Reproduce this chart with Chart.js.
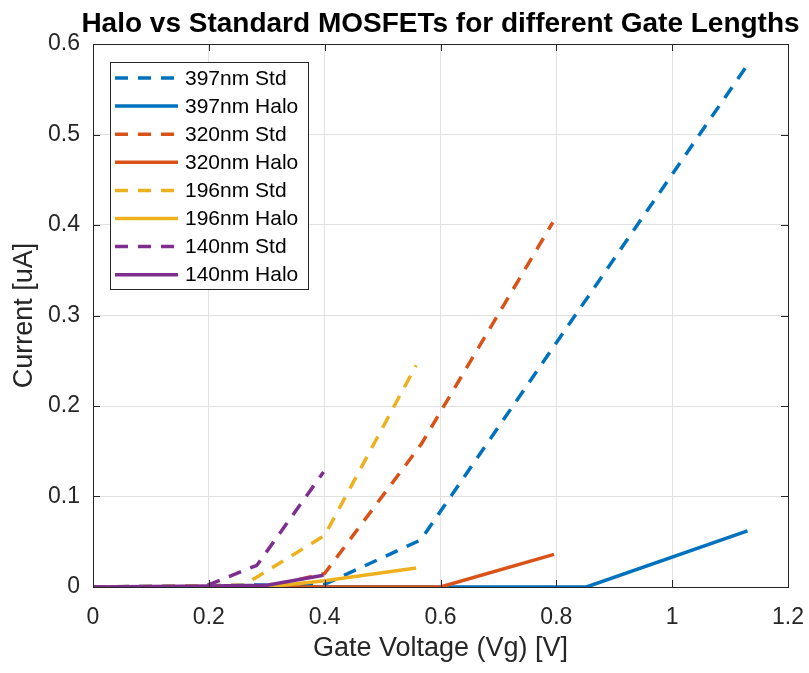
<!DOCTYPE html>
<html>
<head>
<meta charset="utf-8">
<script src="https://cdn.jsdelivr.net/npm/chart.js@4"></script>
<style>
  html, body { margin: 0; padding: 0; background: #fff; }
  canvas { display: block; }
</style>
</head>
<body>
<canvas id="chart" width="809" height="673"></canvas>
<script>
// gate voltage (V) and current (uA)
const std397V = [0, 0.4, 0.566, 1.13];
const std397I = [0, 0.003, 0.052, 0.577];
const halo397V = [0, 0.852, 1.13];
const halo397I = [0, 0, 0.062];

const std320V = [0, 0.3, 0.4, 0.567, 0.794];
const std320I = [0, 0, 0.015, 0.158, 0.403];
const halo320V = [0, 0.6, 0.796];
const halo320I = [0, 0, 0.036];

const std196V = [0, 0.26, 0.4, 0.558];
const std196I = [0, 0.002, 0.057, 0.245];
const halo196V = [0, 0.3, 0.4, 0.558];
const halo196I = [0, 0, 0.007, 0.021];

const std140V = [0, 0.19, 0.283, 0.398];
const std140I = [0, 0, 0.024, 0.127];
const halo140V = [0, 0.2, 0.3, 0.398];
const halo140I = [0, 0.001, 0.002, 0.013];

const xTicks = [0, 0.2, 0.4, 0.6, 0.8, 1, 1.2];
const yTicks = [0, 0.1, 0.2, 0.3, 0.4, 0.5, 0.6];

const BLUE = "#0072BD", ORANGE = "#D95319", YELLOW = "#EDB120", PURPLE = "#7E2F8E";
const INK = "#262626";
const DASH = [13, 10];

const pts = (xs, ys) => xs.map((x, i) => ({ x, y: ys[i] }));

function series(label, xs, ys, color, dashed) {
  return {
    label,
    data: pts(xs, ys),
    borderColor: color,
    backgroundColor: color,
    borderWidth: 3.5,
    borderDash: dashed ? DASH : [],
    borderJoinStyle: "round",
    pointRadius: 0,
    tension: 0,
    fill: false,
  };
}

const datasets = [
  series("397nm Std", std397V, std397I, BLUE, true),
  series("397nm Halo", halo397V, halo397I, BLUE, false),
  series("320nm Std", std320V, std320I, ORANGE, true),
  series("320nm Halo", halo320V, halo320I, ORANGE, false),
  series("196nm Std", std196V, std196I, YELLOW, true),
  series("196nm Halo", halo196V, halo196I, YELLOW, false),
  series("140nm Std", std140V, std140I, PURPLE, true),
  series("140nm Halo", halo140V, halo140I, PURPLE, false),
];
// later series sit on top, like matlab
datasets.forEach((d, i) => (d.order = datasets.length - i));

const FONT = "'Liberation Sans', Arial, Helvetica, sans-serif";

// box round the axes, inward ticks, title and the legend
const matlabLook = {
  id: "matlabLook",
  afterDatasetsDraw(chart) {
    const { ctx, chartArea: a, scales } = chart;
    ctx.save();
    ctx.strokeStyle = INK;
    ctx.lineWidth = 1;
    ctx.beginPath();
    for (const v of xTicks) {
      const px = Math.round(scales.x.getPixelForValue(v)) + 0.5;
      ctx.moveTo(px, a.bottom); ctx.lineTo(px, a.bottom - 7);
      ctx.moveTo(px, a.top); ctx.lineTo(px, a.top + 7);
    }
    for (const v of yTicks) {
      const py = Math.round(scales.y.getPixelForValue(v)) + 0.5;
      ctx.moveTo(a.left, py); ctx.lineTo(a.left + 7, py);
      ctx.moveTo(a.right, py); ctx.lineTo(a.right - 7, py);
    }
    ctx.stroke();
    ctx.strokeRect(Math.round(a.left) + 0.5, Math.round(a.top) + 0.5,
      Math.round(a.right - a.left), Math.round(a.bottom - a.top));

    // title
    ctx.fillStyle = "#000";
    ctx.font = "bold 28px " + FONT;
    ctx.textAlign = "center";
    ctx.textBaseline = "alphabetic";
    ctx.fillText("Halo vs Standard MOSFETs for different Gate Lengths", (a.left + a.right) / 2, 32);

    // legend
    const lx = 110.5, ly = 62.5, lw = 198, lh = 227;
    ctx.fillStyle = "#fff";
    ctx.fillRect(lx, ly, lw, lh);
    ctx.strokeStyle = INK;
    ctx.lineWidth = 1;
    ctx.strokeRect(lx, ly, lw, lh);
    ctx.font = "21px " + FONT;
    ctx.textAlign = "left";
    ctx.textBaseline = "middle";
    chart.data.datasets.forEach((d, i) => {
      const y = 78 + i * 28.1;
      ctx.strokeStyle = d.borderColor;
      ctx.lineWidth = d.borderWidth;
      ctx.setLineDash(d.borderDash);
      ctx.beginPath();
      ctx.moveTo(115, y);
      ctx.lineTo(178, y);
      ctx.stroke();
      ctx.setLineDash([]);
      ctx.fillStyle = "#000";
      ctx.fillText(d.label, 185, y + 1);
    });
    ctx.restore();
  },
};

new Chart(document.getElementById("chart"), {
  type: "line",
  data: { datasets },
  plugins: [matlabLook],
  options: {
    responsive: false,
    animation: false,
    devicePixelRatio: 1,
    layout: { padding: { top: 44, right: 21, left: 0, bottom: 0 } },
    plugins: {
      legend: { display: false },
      title: { display: false },
      tooltip: { enabled: false },
    },
    scales: {
      x: {
        type: "linear",
        min: 0,
        max: 1.2,
        afterBuildTicks: (s) => { s.ticks = xTicks.map((v) => ({ value: v })); },
        afterFit: (s) => { s.height = 86; s.paddingRight = 0; s.paddingLeft = 0; },
        ticks: {
          color: INK,
          font: { family: FONT, size: 23 },
          padding: 17,
          callback: (v) => String(parseFloat(Number(v).toFixed(1))),
        },
        grid: { color: "#e1e1e1", lineWidth: 1, drawTicks: false },
        border: { color: INK, width: 1 },
        title: {
          display: true,
          text: "Gate Voltage (Vg) [V]",
          color: INK,
          font: { family: FONT, size: 27 },
          padding: { top: 0, bottom: 8 },
        },
      },
      y: {
        type: "linear",
        min: 0,
        max: 0.6,
        afterBuildTicks: (s) => { s.ticks = yTicks.map((v) => ({ value: v })); },
        afterFit: (s) => { s.width = 93; },
        ticks: {
          color: INK,
          font: { family: FONT, size: 23 },
          padding: 13,
          callback: (v) => String(parseFloat(Number(v).toFixed(1))),
        },
        grid: { color: "#e1e1e1", lineWidth: 1, drawTicks: false },
        border: { color: INK, width: 1 },
        title: {
          display: true,
          text: "Current [uA]",
          color: INK,
          font: { family: FONT, size: 27 },
          padding: { top: 8, bottom: 0 },
        },
      },
    },
  },
});
</script>
</body>
</html>
